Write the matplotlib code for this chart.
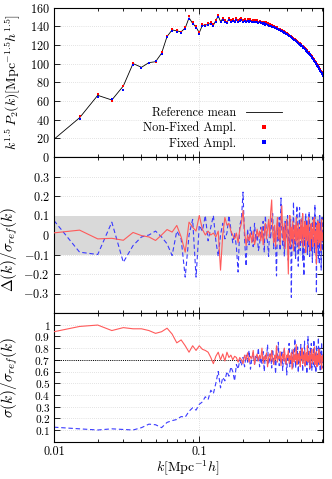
import numpy as np
import matplotlib
matplotlib.use("Agg")
import matplotlib.pyplot as plt
from matplotlib.ticker import LogLocator, NullFormatter, FixedLocator

# ---------------- data ----------------
KF = 0.005  # bin spacing in k [h/Mpc]; first bin is n=2

mean_top = [19,42,66,61,76,100,96,101,102,111,129,136,135,134,138,149,143,139,133,141,141,
            142,143,141,146,151,145,148,146,144,148,146,147,145,148,146,147,148,146,147,145,147,146,147,145,146,146,145,146,144,145,144,144,143,144,142,143,142,141,
            141,140.5,140,140,139.5,139,138.5,138,137.5,137,136.5,136,135.5,135,134.5,134,133.5,133,132.5,132,
            131.5,130.8,130.2,129.6,129,128.4,127.8,127.2,126.6,126,125.4,124.8,124.2,123.6,123,122.4,121.8,121.2,120.6,120,
            119.4,118.8,118.2,117.6,117,116.3,115.7,115,114.4,113.7,113,112.3,111.6,110.9,110.2,109.5,108.8,108.1,107.3,106.5,
            105.8,105,104.2,103.4,102.6,101.8,101,100.1,99.2,98.4,97.5,96.6,95.7,94.8,93.9,93,92,91,90.1,89.2,88.3,87.4]

red_top = [19,44,67,60,76,101,95,101,101.5,112,130,137,136,134,139,151,144,140,134,142,141,
           143,144,142,147,152,144,149,147,145,149,147,148,146,149,147,148,149,147,148,146,148,147,148,146,147,147,146,147,145,146,145,145,144,145,143,144,143,142,
           142,141,141,140.5,140,139.5,139,139,138,137.5,137,136.5,136,135.5,135,134.5,134,133.5,133,132.5,
           132,131.3,130.7,130,129.5,129,128.3,127.7,127,126.5,125.8,125.3,124.6,124,123.5,122.8,122.3,121.6,121,120.5,
           119.8,119.2,118.7,118,117.4,116.8,116.1,115.5,114.8,114.2,113.5,112.8,112,111.4,110.7,110,109.3,108.5,107.8,107,
           106.3,105.5,104.7,103.9,103.1,102.3,101.5,100.6,99.7,98.9,98,97.1,96.2,95.3,94.4,93.5,92.5,91.5,90.6,89.7,88.8,87.9]

blue_top = [19,40.5,64,62.5,71.5,98,95,100.5,103,110,128,135,134,133,137,148,142,138,132,140,140,
            141,142,140,145,150,145,147,145,143,147,145,146,144,147,145,146,147,145,146,144,146,145,146,144,145,145,144,145,143,144,143,143,142,143,141,142,141,140,
            140.5,140,139.5,139.5,139,138.5,138,137.5,137,136.5,136,135.5,135,134.5,134,133.5,133,132.5,132,131.5,
            131,130.3,129.7,129.1,128.5,127.9,127.3,126.7,126.1,125.5,124.9,124.3,123.7,123.1,122.5,121.9,121.3,120.7,120.1,119.5,
            118.9,118.3,117.7,117.1,116.5,115.8,115.2,114.5,113.9,113.2,112.5,111.8,111.1,110.4,109.7,109,108.3,107.6,106.8,106,
            105.3,104.5,103.7,102.9,102.1,101.3,100.5,99.6,98.7,97.9,97,96.1,95.2,94.3,93.4,92.5,91.5,90.5,89.6,88.7,87.8,86.9]

red_delta = [0.011,0.025,-0.02,-0.017,-0.027,0.013,-0.003,-0.01,-0.028,0.0,0.028,
             0.015,0.049,-0.01,-0.088,0.066,0.04,0.02,0.10,0.03,0.0,0.02,0.0,0.01,-0.01,0.02,-0.18,0.0,0.09,0.05,0.06,
             0.02,0.0,-0.02,0.01,-0.04,0.03,0.06,0.126,0.02,-0.055,0.0,-0.03,0.01,-0.04,0.02,-0.05,-0.02,0.03,-0.01,0.02,
             -0.03,0.04,-0.05,0.01,0.06,-0.02,0.03,0.08,-0.01,0.12,0.18,0.02,-0.04,0.05,-0.06,0.03,0.09,-0.02,0.04,-0.05,
             0.07,0.15,0.01,-0.03,0.06,-0.07,0.02,0.08,-0.04,-0.20,0.03,0.10,-0.06,0.04,-0.02,0.07,-0.08,0.02,0.05,-0.03,
             0.09,-0.05,0.01,0.06,-0.07,0.03,-0.02,0.08,-0.04,0.02,0.11,-0.06,0.04,-0.01,0.07,-0.09,0.03,0.05,-0.03,0.02,
             0.09,-0.05,0.01,-0.08,0.04,0.06,-0.02,0.03,-0.06,0.08,0.01,0.09,-0.04,0.02,-0.07,-0.15,0.05,-0.02,0.07,-0.05,
             0.03,0.06,-0.04,0.02,-0.08,0.04,0.08,-0.03,0.01,-0.02]

blue_delta = [0.074,-0.088,-0.10,0.066,-0.14,-0.054,-0.01,0.0,0.02,-0.01,-0.045,-0.105,0.02,-0.02,-0.216,0.0,0.08,-0.216,0.05,0.02,
              0.10,-0.03,0.04,0.10,-0.03,-0.11,0.0,0.06,-0.02,0.01,0.10,0.03,-0.04,0.01,-0.06,-0.19,0.05,0.08,0.22,-0.02,
              -0.16,0.03,-0.05,0.04,0.0,-0.06,0.06,-0.03,0.02,-0.08,-0.05,0.04,-0.02,0.07,-0.09,0.10,0.01,-0.04,-0.11,0.05,
              -0.02,0.08,0.11,-0.07,0.03,-0.05,-0.21,0.06,-0.03,0.09,-0.08,0.19,0.02,-0.06,0.04,-0.11,0.07,-0.02,0.05,0.10,
              -0.13,0.03,-0.07,0.08,-0.32,0.01,-0.05,0.17,-0.09,0.04,-0.12,0.06,0.15,-0.04,-0.16,0.03,0.14,-0.08,0.05,-0.02,
              0.09,-0.13,0.02,-0.21,0.07,-0.05,0.11,-0.03,0.08,-0.10,0.04,-0.06,0.12,-0.11,0.01,0.06,-0.08,0.03,-0.14,0.09,
              -0.04,0.05,-0.09,0.155,-0.02,0.07,-0.30,0.04,-0.07,0.08,-0.12,0.02,-0.15,0.10,-0.05,0.06,-0.18,0.03,0.09,-0.08,
              0.01]

red_sigma = [0.94,0.985,0.997,0.95,0.975,0.965,0.965,0.95,0.926,0.94,0.97,0.92,0.845,0.87,0.82,0.765,0.82,0.78,0.82,0.79,
             0.78,0.765,0.72,0.667,0.73,0.765,0.70,0.75,0.69,0.765,0.72,0.74,0.70,0.73,0.72,0.68,0.72,0.70,0.667,
             0.74,0.70,0.76,0.68,0.73,0.71,0.78,0.66,0.72,0.75,
             0.69,0.74,0.71,0.80,0.67,0.73,0.70,0.76,0.64,0.72,
             0.75,0.69,0.78,0.71,0.66,0.74,0.70,0.82,0.68,0.73,
             0.71,0.77,0.65,0.72,0.75,0.69,0.80,0.70,0.66,0.74,
             0.72,0.78,0.67,0.73,0.70,0.76,0.62,0.71,0.79,0.68,
             0.74,0.70,0.83,0.66,0.72,0.75,0.69,0.77,0.64,0.73,
             0.71,0.80,0.67,0.74,0.70,0.78,0.65,0.72,0.76,0.69,
             0.82,0.68,0.73,0.70,0.77,0.63,0.74,0.71,0.79,0.67,
             0.72,0.75,0.69,0.81,0.66,0.73,0.70,0.77,0.64,0.72,
             0.74,0.68,0.79,0.70,0.66,0.75,0.71,0.73,0.62,0.70,
             0.74,0.69]

blue_sigma = [0.124,0.11,0.10,0.11,0.105,0.10,0.12,0.15,0.145,0.12,0.165,0.18,0.19,0.215,0.21,0.26,0.29,0.27,0.32,0.34,
              0.384,0.36,0.44,0.41,0.50,0.60,0.46,0.55,0.52,0.60,0.56,0.64,0.60,0.52,0.66,0.62,0.70,0.65,0.72,
              0.64,0.74,0.68,0.78,0.62,0.71,0.76,0.66,0.73,0.69,
              0.80,0.64,0.72,0.67,0.77,0.60,0.74,0.70,0.83,0.66,
              0.71,0.75,0.63,0.79,0.68,0.73,0.58,0.76,0.70,0.85,
              0.65,0.72,0.68,0.78,0.61,0.74,0.80,0.66,0.71,0.57,
              0.75,0.69,0.84,0.64,0.73,0.67,0.79,0.62,0.76,0.70,
              0.88,0.63,0.72,0.68,0.81,0.59,0.75,0.71,0.66,0.83,
              0.69,0.74,0.60,0.78,0.72,0.86,0.64,0.70,0.77,0.58,
              0.73,0.90,0.67,0.75,0.62,0.80,0.69,0.84,0.61,0.74,
              0.71,0.66,0.87,0.63,0.77,0.70,0.59,0.82,0.68,0.75,
              0.64,0.89,0.72,0.67,0.80,0.60,0.76,0.70,0.85,0.63,
              0.74,0.68]

top_yticks = [0, 20, 40, 60, 80, 100, 120, 140, 160]
mid_yticks = [-0.3, -0.2, -0.1, 0, 0.1, 0.2, 0.3]
bot_yticks = [0.1, 0.2, 0.3, 0.4, 0.5, 0.6, 0.7, 0.8, 0.9, 1]
x_ticks = [0.01, 0.1]
x_ticklabels = ["0.01", "0.1"]
legend_labels = ["Reference mean", "Non-Fixed Ampl.", "Fixed Ampl."]


def kgrid(arr):
    return KF * np.arange(2, 2 + len(arr))


def fmt(v):
    return "$" + ("%g" % v) + "$"


# ---------------- style ----------------
plt.rcParams.update({
    "font.family": "serif",
    "font.serif": ["cmr10", "DejaVu Serif"],
    "mathtext.fontset": "cm",
    "axes.unicode_minus": False,
    "axes.linewidth": 0.8,
})

RED = "#ff5a5a"
BLUE = "#3a3aff"
TICK_FS = 8.8

fig = plt.figure(figsize=(3.32, 4.79), dpi=100)
W, H = 332.0, 479.0
L, R = 54.0 / W, 322.7 / W
ax1 = fig.add_axes([L, 1 - 157 / H, R - L, (157 - 7.5) / H])
ax2 = fig.add_axes([L, 1 - 313 / H, R - L, (313 - 157) / H])
ax3 = fig.add_axes([L, 1 - 441.7 / H, R - L, (441.7 - 313) / H])

for ax in (ax1, ax2, ax3):
    ax.set_xscale("log")
    ax.set_xlim(0.01, 0.707)
    ax.xaxis.set_major_locator(FixedLocator(x_ticks))
    ax.xaxis.set_minor_locator(LogLocator(base=10, subs=np.arange(2, 10)))
    ax.xaxis.set_minor_formatter(NullFormatter())
    ax.tick_params(which="both", direction="in", top=True, right=True, width=0.6,
                   labelsize=TICK_FS, pad=3)
    ax.tick_params(which="major", length=4)
    ax.tick_params(which="minor", length=2.2)
    ax.grid(True, which="major", ls=(0, (1, 2)), lw=0.5, color="#c8c8c8")
    ax.set_axisbelow(True)

# ---- top panel ----
ax1.plot(kgrid(mean_top), mean_top, color="black", lw=0.6, label=legend_labels[0])
ax1.plot(kgrid(red_top), red_top, ls="none", marker="s", ms=1.9, mew=0,
         color="#ff0000", label=legend_labels[1])
ax1.plot(kgrid(blue_top), blue_top, ls="none", marker="s", ms=1.9, mew=0,
         color="#0000ff", label=legend_labels[2])
ax1.set_ylim(0, 160)
ax1.set_yticks(top_yticks, [fmt(v) for v in top_yticks])
ax1.set_xticklabels([])
ax1.set_ylabel(r"$k^{1.5}\,P_2(k)[{\rm Mpc}^{-1.5}h^{1.5}]$", fontsize=10)
ax1.yaxis.set_label_coords(-0.118, 0.5)
ax1.legend(loc="lower right", bbox_to_anchor=(0.85, 0.05), frameon=False,
           markerfirst=False, fontsize=8.8, handlelength=3.0, handletextpad=0.8,
           labelspacing=0.22, borderaxespad=0, borderpad=0, numpoints=1,
           markerscale=1.2)

# ---- middle panel ----
ax2.axhspan(-0.1, 0.1, color="#d9d9d9", lw=0, zorder=1)
ax2.plot(kgrid(red_delta), red_delta, color=RED, lw=0.8, zorder=3)
ax2.plot(kgrid(blue_delta), blue_delta, color=BLUE, lw=0.8, ls=(0, (4, 2.5)), zorder=2)
ax2.set_ylim(-0.4, 0.4)
ax2.set_yticks(mid_yticks, [fmt(v) for v in mid_yticks])
ax2.set_xticklabels([])
ax2.set_ylabel(r"$\Delta(k)/\sigma_{ref}(k)$", fontsize=11)
ax2.yaxis.set_label_coords(-0.128, 0.41)

# ---- bottom panel ----
ax3.axhline(0.7, color="black", lw=0.7, ls=(0, (1, 1.2)), zorder=2)
ax3.plot(kgrid(red_sigma), red_sigma, color=RED, lw=0.8, zorder=3)
ax3.plot(kgrid(blue_sigma), blue_sigma, color=BLUE, lw=0.8, ls=(0, (4, 2.5)), zorder=2)
ax3.set_ylim(0, 1.1)
ax3.set_yticks(bot_yticks, [fmt(v) for v in bot_yticks])
ax3.tick_params(axis="y", labelsize=8.2, pad=2.5)
ax3.set_xticks(x_ticks, x_ticklabels)
ax3.set_ylabel(r"$\sigma(k)/\sigma_{ref}(k)$", fontsize=11)
ax3.yaxis.set_label_coords(-0.128, 0.5)
ax3.set_xlabel(r"$k[{\rm Mpc}^{-1}h]$", fontsize=10)
ax3.xaxis.set_label_coords(0.5, -0.135)
ax3.xaxis.label.set_va("top")

fig.savefig("out.png", dpi=100)
